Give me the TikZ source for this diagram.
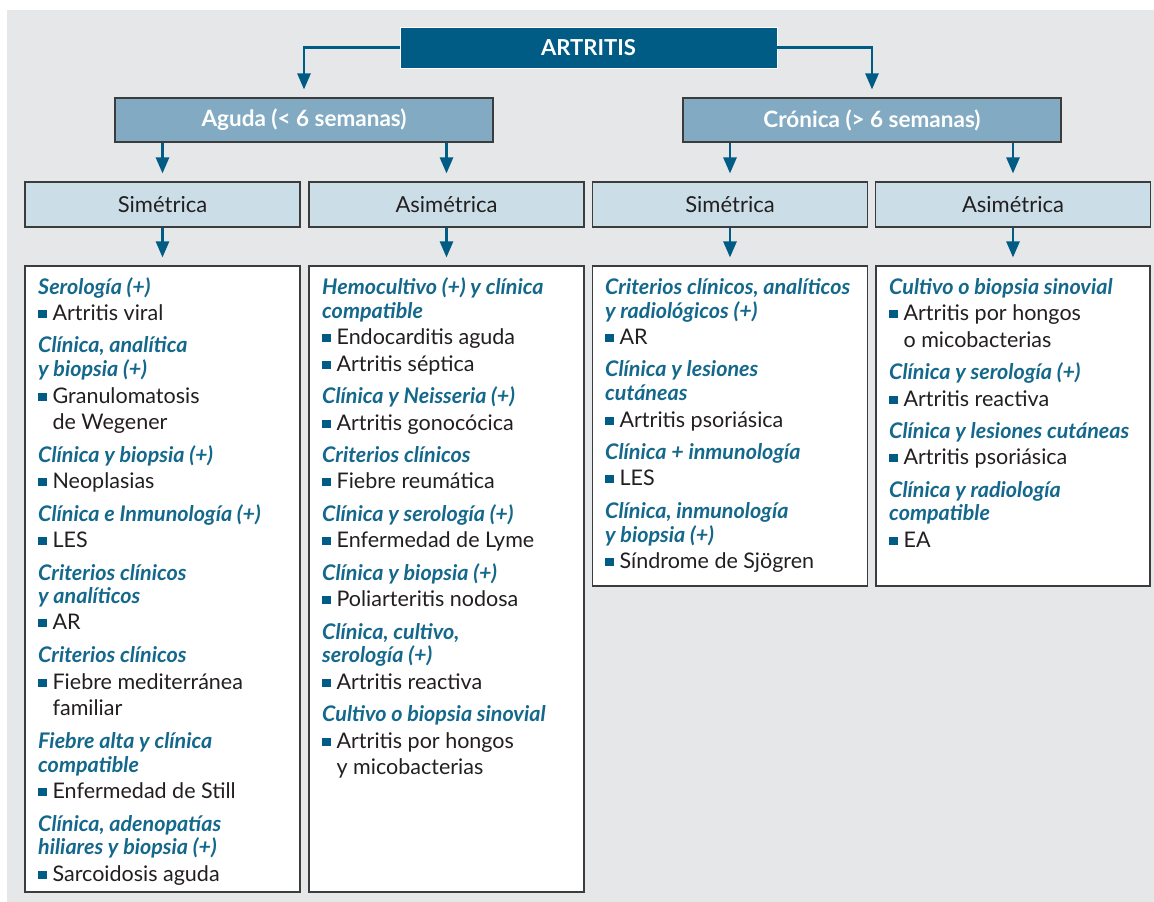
\documentclass[tikz,border=0pt]{standalone}
\usepackage{fontspec}
\setmainfont{Lato}
\usetikzlibrary{arrows.meta}

\definecolor{bg}{RGB}{230,231,233}
\definecolor{dark}{RGB}{0,92,133}
\definecolor{midblue}{RGB}{130,171,195}
\definecolor{lightblue}{RGB}{203,222,231}
\definecolor{head}{RGB}{20,104,140}
\definecolor{ink}{RGB}{35,31,32}
\definecolor{frame}{RGB}{60,60,60}

\tikzset{
  top/.style={fill=dark, draw=white, line width=0.8pt, text=white,
    font=\fontsize{22}{26}\selectfont\bfseries, minimum width=377pt, minimum height=41pt, inner sep=0pt},
  lvl/.style={fill=midblue, draw=frame, line width=1.1pt, text=white,
    font=\fontsize{22.5}{26}\selectfont\bfseries, minimum width=378pt, minimum height=44pt, inner sep=0pt},
  kind/.style={fill=lightblue, draw=frame, line width=1.1pt, text=ink,
    font=\fontsize{22}{26}\selectfont, minimum width=275pt, minimum height=45pt, inner sep=0pt},
  panel/.style={fill=white, draw=frame, line width=1.1pt, minimum width=275pt, inner sep=0pt},
  flow/.style={draw=dark, line width=2.6pt, -{Triangle[length=16pt,width=13pt]}, shorten >=8pt},
  hdtext/.style={anchor=mid west, inner sep=0pt, text=head, font=\fontsize{21.5}{25}\selectfont\bfseries\itshape},
  ittext/.style={anchor=mid west, inner sep=0pt, text=ink, font=\fontsize{21.5}{25}\selectfont},
}

% heading line, bullet line, continuation line
\newcommand\hdline[4]{\node[hdtext] (#1) at (#2,#3+5) {#4};}
\newcommand\bitem[4]{\node[ittext] (#1) at (#2,#3+5) {\textcolor{dark}{\rule[2.5pt]{8.4pt}{8.4pt}}\hspace{6pt}#4};}
\newcommand\citem[4]{\node[ittext] (#1) at (#2+14.4,#3+5) {#4};}

\begin{document}
\begin{tikzpicture}[x=1pt,y=-1pt]
  \useasboundingbox (0,0) rectangle (1154,902);
  \fill[bg] (7,10) rectangle (1154,902);

  % hierarchy boxes
  \node[top] (art) at (588.5,47.5) {\raisebox{-2pt}{ARTRITIS}};
  \node[lvl] (agu) at (304,120) {\raisebox{-3pt}{Aguda (< 6 semanas)}};
  \node[lvl] (cro) at (872,120) {\raisebox{-3pt}{Crónica (> 6 semanas)}};
  \node[kind] (s1) at (162.5,204.5) {\raisebox{-1pt}{Simétrica}};
  \node[kind] (s2) at (446.5,204.5) {\raisebox{-1pt}{Asimétrica}};
  \node[kind] (s3) at (730,204.5) {\raisebox{-1pt}{Simétrica}};
  \node[kind] (s4) at (1013,204.5) {\raisebox{-1pt}{Asimétrica}};

  % result panels
  \node[panel, minimum height=626pt] (p1) at (162.5,579) {};
  \node[panel, minimum height=626pt] (p2) at (446.5,579) {};
  \node[panel, minimum height=320pt] (p3) at (730,426) {};
  \node[panel, minimum height=320pt, minimum width=274pt] (p4) at (1013,426) {};

  % connectors
  \draw[flow] (art.west) -| (agu.north);
  \draw[flow] (art.east) -| (cro.north);
  \draw[flow] (agu.south -| s1.north) -- (s1.north);
  \draw[flow] (agu.south -| s2.north) -- (s2.north);
  \draw[flow] (cro.south -| s3.north) -- (s3.north);
  \draw[flow] (cro.south -| s4.north) -- (s4.north);
  \draw[flow] (s1.south) -- (p1.north);
  \draw[flow] (s2.south) -- (p2.north);
  \draw[flow] (s3.south) -- (p3.north);
  \draw[flow] (s4.south) -- (p4.north);

  % panel 1: acute, symmetric
  \hdline{a1}{38}{287}{Serología (+)}
  \bitem{a2}{38}{313}{Artritis viral}
  \hdline{a3}{38}{345}{Clínica, analítica}
  \hdline{a4}{38}{369}{y biopsia (+)}
  \bitem{a5}{38}{396}{Granulomatosis}
  \citem{a6}{38}{422}{de Wegener}
  \hdline{a7}{38}{455}{Clínica y biopsia (+)}
  \bitem{a8}{38}{481}{Neoplasias}
  \hdline{a9}{38}{514}{Clínica e Inmunología (+)}
  \bitem{a10}{38}{540}{LES}
  \hdline{a11}{38}{573}{Criterios clínicos}
  \hdline{a12}{38}{596}{y analíticos}
  \bitem{a13}{38}{622}{AR}
  \hdline{a14}{38}{655}{Criterios clínicos}
  \bitem{a15}{38}{682}{Fiebre mediterránea}
  \citem{a16}{38}{708}{familiar}
  \hdline{a17}{38}{741}{Fiebre alta y clínica}
  \hdline{a18}{38}{765}{compatible}
  \bitem{a19}{38}{791}{Enfermedad de Still}
  \hdline{a20}{38}{824}{Clínica, adenopatías}
  \hdline{a21}{38}{847}{hiliares y biopsia (+)}
  \bitem{a22}{38}{874}{Sarcoidosis aguda}

  % panel 2: acute, asymmetric
  \hdline{b1}{322}{287}{Hemocultivo (+) y clínica}
  \hdline{b2}{322}{311}{compatible}
  \bitem{b3}{322}{337}{Endocarditis aguda}
  \bitem{b4}{322}{364}{Artritis séptica}
  \hdline{b5}{322}{396}{Clínica y Neisseria (+)}
  \bitem{b6}{322}{423}{Artritis gonocócica}
  \hdline{b7}{322}{455}{Criterios clínicos}
  \bitem{b8}{322}{481}{Fiebre reumática}
  \hdline{b9}{322}{514}{Clínica y serología (+)}
  \bitem{b10}{322}{540}{Enfermedad de Lyme}
  \hdline{b11}{322}{573}{Clínica y biopsia (+)}
  \bitem{b12}{322}{599}{Poliarteritis nodosa}
  \hdline{b13}{322}{632}{Clínica, cultivo,}
  \hdline{b14}{322}{655}{serología (+)}
  \bitem{b15}{322}{682}{Artritis reactiva}
  \hdline{b16}{322}{714}{Cultivo o biopsia sinovial}
  \bitem{b17}{322}{741}{Artritis por hongos}
  \citem{b18}{322}{767}{y micobacterias}

  % panel 3: chronic, symmetric
  \hdline{c1}{605}{287}{Criterios clínicos, analíticos}
  \hdline{c2}{605}{311}{y radiológicos (+)}
  \bitem{c3}{605}{337}{AR}
  \hdline{c4}{605}{369}{Clínica y lesiones}
  \hdline{c5}{605}{393}{cutáneas}
  \bitem{c6}{605}{420}{Artritis psoriásica}
  \hdline{c7}{605}{452}{Clínica + inmunología}
  \bitem{c8}{605}{478}{LES}
  \hdline{c9}{605}{511}{Clínica, inmunología}
  \hdline{c10}{605}{535}{y biopsia (+)}
  \bitem{c11}{605}{561}{Síndrome de Sjögren}

  % panel 4: chronic, asymmetric
  \hdline{d1}{889}{287}{Cultivo o biopsia sinovial}
  \bitem{d2}{889}{313}{Artritis por hongos}
  \citem{d3}{889}{340}{o micobacterias}
  \hdline{d4}{889}{372}{Clínica y serología (+)}
  \bitem{d5}{889}{399}{Artritis reactiva}
  \hdline{d6}{889}{431}{Clínica y lesiones cutáneas}
  \bitem{d7}{889}{457}{Artritis psoriásica}
  \hdline{d8}{889}{490}{Clínica y radiología}
  \hdline{d9}{889}{513}{compatible}
  \bitem{d10}{889}{540}{EA}
\end{tikzpicture}
\end{document}
